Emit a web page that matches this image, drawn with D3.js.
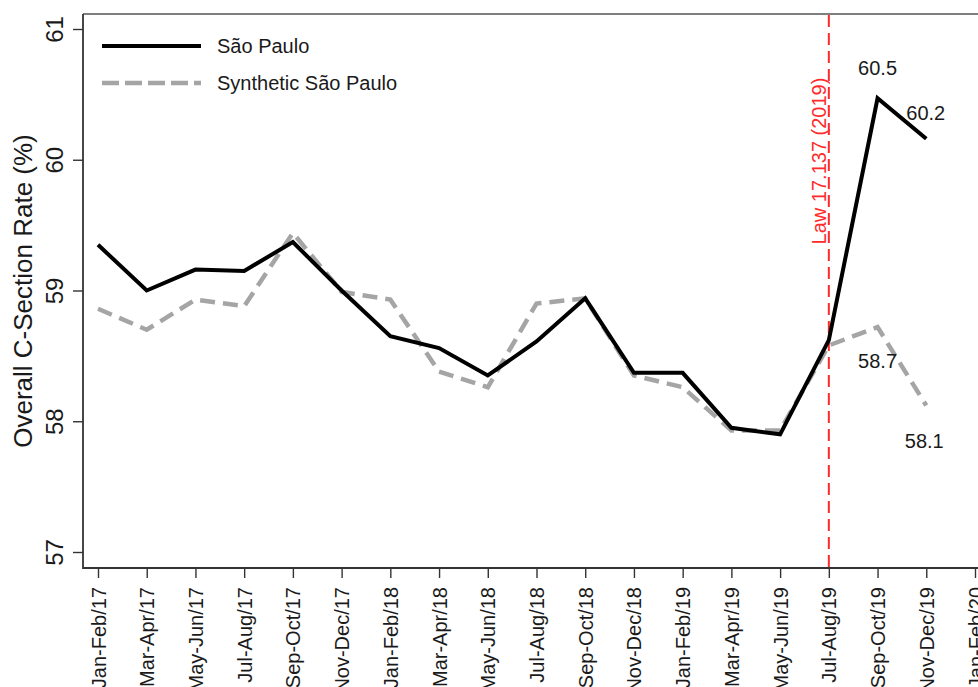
<!DOCTYPE html>
<html>
<head>
<meta charset="utf-8">
<script src="https://cdn.jsdelivr.net/npm/d3@7"></script>
<style>
  body { margin: 0; background: #fff; }
  text { font-family: "Liberation Sans", Arial, Helvetica, sans-serif; fill: #1a1a1a; }
</style>
</head>
<body>
<div id="graph"></div>
<script>
let width = 978;
let height = 687;

// bimonthly periods on the x axis (last one has no data)
let periods = ["Jan-Feb/17", "Mar-Apr/17", "May-Jun/17", "Jul-Aug/17", "Sep-Oct/17", "Nov-Dec/17",
               "Jan-Feb/18", "Mar-Apr/18", "May-Jun/18", "Jul-Aug/18", "Sep-Oct/18", "Nov-Dec/18",
               "Jan-Feb/19", "Mar-Apr/19", "May-Jun/19", "Jul-Aug/19", "Sep-Oct/19", "Nov-Dec/19",
               "Jan-Feb/20"];

let saoPaulo = [59.35, 59.00, 59.16, 59.15, 59.37, 59.00, 58.65, 58.56, 58.35, 58.61, 58.94, 58.37,
                58.37, 57.95, 57.90, 58.62, 60.47, 60.16];

let synthetic = [58.86, 58.70, 58.93, 58.88, 59.44, 58.99, 58.93, 58.38, 58.26, 58.90, 58.94, 58.35,
                 58.26, 57.93, 57.93, 58.58, 58.72, 58.12];

let yTicks = [57, 58, 59, 60, 61];
let lawPeriod = "Jul-Aug/19";
let lawLabel = "Law 17.137 (2019)";
let seriesNames = ["São Paulo", "Synthetic São Paulo"];

// frame of the plot region
let plotLeft = 83, plotTop = 14, plotBottom = 568, plotRight = 1000;

let x = d3.scalePoint()
  .domain(periods)
  .range([98, 975]);

let y = d3.scaleLinear()
  .domain([57, 61])
  .range([552, 29]);

let svg = d3.select('#graph')
  .append('svg')
  .attr('width', width)
  .attr('height', height);

// top border
svg.append('line')
  .attr('x1', plotLeft).attr('x2', plotRight)
  .attr('y1', plotTop).attr('y2', plotTop)
  .attr('stroke', '#555').attr('stroke-width', 1.6);

// y axis
let yAxis = svg.append('g')
  .attr('transform', 'translate(' + plotLeft + ',0)')
  .call(d3.axisLeft(y).tickValues(yTicks).tickSize(10).tickPadding(0).tickFormat(d3.format('d')));

yAxis.select('.domain').remove();
yAxis.append('line')
  .attr('y1', plotTop).attr('y2', plotBottom + 1)
  .attr('stroke', '#333').attr('stroke-width', 1.8);
yAxis.selectAll('.tick line').attr('stroke', '#333').attr('stroke-width', 1.4);
yAxis.selectAll('.tick text')
  .attr('x', 0).attr('dy', 0)
  .attr('transform', 'translate(-20,0) rotate(-90)')
  .attr('text-anchor', 'middle')
  .style('font-size', '24px');

// x axis
let xAxis = svg.append('g')
  .attr('transform', 'translate(0,' + plotBottom + ')')
  .call(d3.axisBottom(x).tickSize(10).tickPadding(0));

xAxis.select('.domain').remove();
xAxis.append('line')
  .attr('x1', plotLeft).attr('x2', plotRight)
  .attr('stroke', '#333').attr('stroke-width', 1.8);
xAxis.selectAll('.tick line').attr('stroke', '#333').attr('stroke-width', 1.4);
xAxis.selectAll('.tick text')
  .attr('x', 0).attr('y', 0).attr('dy', 0)
  .attr('transform', 'translate(7,19) rotate(-90)')
  .attr('text-anchor', 'end')
  .style('font-size', '20px');

svg.selectAll('.tick text').attr('fill', '#1a1a1a').style('font-family', '"Liberation Sans", Arial, sans-serif');

// y title
svg.append('text')
  .attr('transform', 'translate(32,' + ((plotTop + plotBottom) / 2) + ') rotate(-90)')
  .attr('text-anchor', 'middle')
  .style('font-size', '26px')
  .text('Overall C-Section Rate (%)');

// law line
svg.append('line')
  .attr('x1', x(lawPeriod)).attr('x2', x(lawPeriod))
  .attr('y1', plotTop + 1).attr('y2', plotBottom)
  .attr('stroke', '#ff2a2a')
  .attr('stroke-width', 2)
  .attr('stroke-dasharray', '12,6');

svg.append('text')
  .attr('transform', 'translate(' + (x(lawPeriod) - 3) + ',161) rotate(-90)')
  .attr('text-anchor', 'middle')
  .style('font-size', '20px')
  .style('fill', '#ff2a2a')
  .text(lawLabel);

let line = d3.line()
  .x((d, i) => x(periods[i]))
  .y((d) => y(d));

svg.append('path')
  .datum(synthetic)
  .attr('d', line)
  .attr('fill', 'none')
  .attr('stroke', '#a5a5a5')
  .attr('stroke-width', 4.5)
  .attr('stroke-dasharray', '15,8');

svg.append('path')
  .datum(saoPaulo)
  .attr('d', line)
  .attr('fill', 'none')
  .attr('stroke', '#000')
  .attr('stroke-width', 4)
  .attr('stroke-linejoin', 'miter');

// value labels for the last two periods
let fmt = d3.format('.1f');
let labels = [
  { v: saoPaulo[16], i: 16, dx: 0, dy: -23, anchor: 'middle' },
  { v: saoPaulo[17], i: 17, dx: -20, dy: -19, anchor: 'start' },
  { v: synthetic[16], i: 16, dx: 0, dy: 41, anchor: 'middle' },
  { v: synthetic[17], i: 17, dx: -2, dy: 42, anchor: 'middle' }
];

svg.selectAll(null)
  .data(labels)
  .enter()
  .append('text')
  .attr('x', (d) => x(periods[d.i]) + d.dx)
  .attr('y', (d) => y(d.v) + d.dy)
  .attr('text-anchor', (d) => d.anchor)
  .style('font-size', '20px')
  .text((d) => fmt(d.v));

// legend
let legend = svg.append('g');
let styles = [
  { stroke: '#000', width: 4, dash: null },
  { stroke: '#a5a5a5', width: 4.5, dash: '17,6' }
];

seriesNames.forEach((name, i) => {
  let ly = 46 + i * 37;
  legend.append('line')
    .attr('x1', 102).attr('x2', 201)
    .attr('y1', ly).attr('y2', ly)
    .attr('stroke', styles[i].stroke)
    .attr('stroke-width', styles[i].width)
    .attr('stroke-dasharray', styles[i].dash);
  legend.append('text')
    .attr('x', 217).attr('y', ly + 7)
    .style('font-size', '20px')
    .text(name);
});
</script>
</body>
</html>
